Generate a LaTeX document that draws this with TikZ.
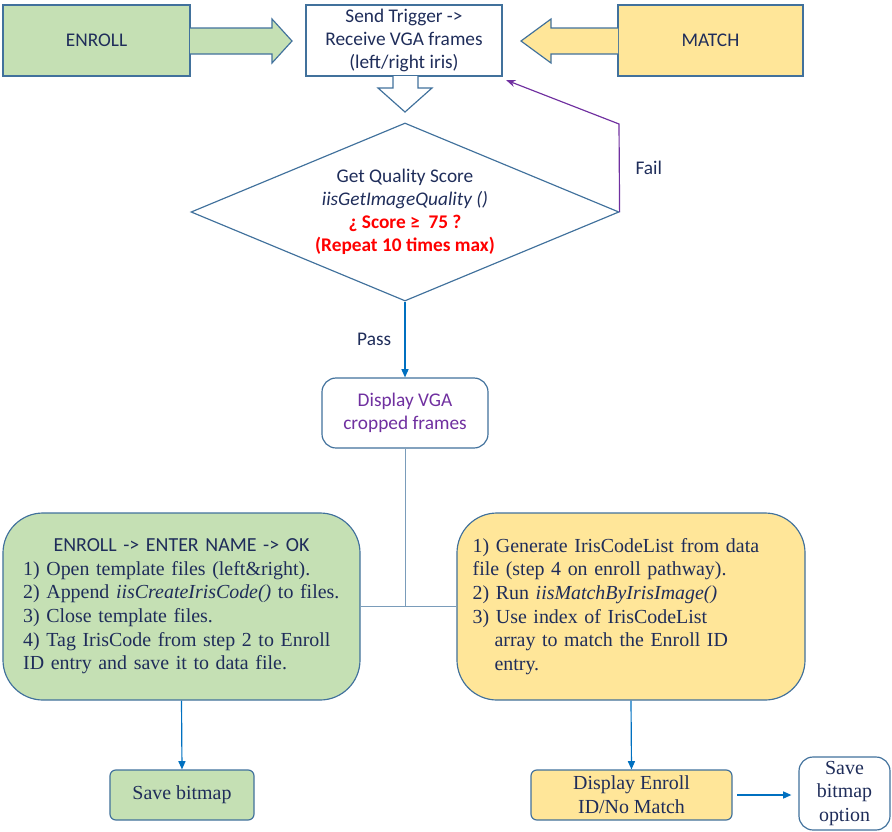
\documentclass[tikz,border=0pt]{standalone}
\usepackage{fontspec}
\setmainfont{Liberation Serif}
\setsansfont{Carlito}
\usetikzlibrary{shapes.geometric,arrows.meta,positioning}
\definecolor{boxline}{RGB}{65,113,156}
\definecolor{greenfill}{RGB}{197,224,180}
\definecolor{yellowfill}{RGB}{255,230,153}
\definecolor{navytext}{RGB}{31,45,90}
\definecolor{failline}{RGB}{112,48,160}
\definecolor{passline}{RGB}{0,112,192}
\tikzset{
  sanstext/.style={font=\sffamily\fontsize{16.5}{19.8}\selectfont, text=navytext},
  serftext/.style={font=\fontsize{17}{20.2}\selectfont, text=navytext},
  plainbox/.style={draw=boxline, line width=1pt, fill=white, inner sep=2pt},
  roundbox/.style={plainbox, rounded corners=12pt},
  bigbox/.style={draw=boxline, line width=1pt, rounded corners=1.2cm},
  flow/.style={draw=passline, line width=1pt, -{Triangle[length=7pt,width=6pt]}},
}
\begin{document}
\begin{tikzpicture}[x=0.03cm,y=-0.03cm]
\useasboundingbox (0,0) rectangle (892,831);
% top row
\node[plainbox, fill=greenfill, sanstext, minimum width=5.61cm, minimum height=2.13cm] (enroll) at (96.5,40.5) {ENROLL};
\node[plainbox, sanstext, align=center, minimum width=5.88cm, minimum height=2.13cm] (trigger) at (404,40.5) {Send Trigger ->\\Receive VGA frames\\(left/right iris)};
\node[plainbox, fill=yellowfill, sanstext, minimum width=5.55cm, minimum height=2.13cm] (match) at (710.5,40.5) {MATCH};
\draw[draw=boxline, line width=1pt, fill=greenfill] (190,28) -- (272,28) -- (272,19) -- (292,41) -- (272,63) -- (272,54) -- (190,54);
\draw[draw=boxline, line width=1pt, fill=yellowfill] (618,28) -- (551,28) -- (551,19) -- (521,41) -- (551,63) -- (551,54) -- (618,54);
\draw[draw=boxline, line width=1pt, fill=white] (393,76) -- (393,88) -- (378,88) -- (405,112) -- (432,88) -- (418,88) -- (418,76);
% quality check
\node[diamond, aspect=2.4, draw=boxline, line width=1pt, inner sep=0pt, sanstext, align=center, minimum width=12.84cm, minimum height=5.34cm] (quality) at (405,212)
  {Get Quality Score\\\textit{iisGetImageQuality ()}\\\textcolor{red}{\bfseries ¿ Score ≥\ \ 75 ?}\\\textcolor{red}{\bfseries (Repeat 10 times max)}};
\coordinate (failturn) at (619,124);
\draw[draw=failline, line width=1pt, -{Stealth[length=8pt,width=6pt]}] (quality.east) -- (failturn) node[midway, right=10pt, sanstext]{Fail} -- ([xshift=3pt,yshift=-3pt]trigger.south east);
\node[roundbox, sanstext, text=failline, align=center, minimum width=4.98cm, minimum height=2.1cm] (vga) at (405,413) {Display VGA\\cropped frames};
\draw[flow] (quality.south) -- (vga.north) node[midway, left=8pt, sanstext]{Pass};
% enroll / match paths
\node[bigbox, fill=greenfill, serftext, text width=9.5cm, align=left, minimum width=10.71cm, minimum height=5.61cm] (enrollsteps) at (181.5,606.5)
  {\makebox[\linewidth]{\sffamily ENROLL -> ENTER NAME -> OK}\\
   1) Open template files (left\&right).\\
   2) Append \textit{iisCreateIrisCode()} to files.\\
   3) Close template files.\\
   4) Tag IrisCode from step 2 to Enroll\\
   ID entry and save it to data file.};
\node[bigbox, fill=yellowfill, serftext, text width=9.5cm, align=left, minimum width=10.44cm, minimum height=5.61cm] (matchsteps) at (631,606.5)
  {1) Generate IrisCodeList from data\\
   file (step 4 on enroll pathway).\\
   2) Run \textit{iisMatchByIrisImage()}\\
   3) Use index of IrisCodeList\\
   \hspace*{1.1em}array to match the Enroll ID\\
   \hspace*{1.1em}entry.};
\coordinate (junction) at (405,606.5);
\draw[draw=boxline!70, line width=0.6pt] (vga.south) -- (junction);
\draw[draw=boxline!70, line width=0.6pt] (enrollsteps.east) -- (matchsteps.west);
% results
\node[plainbox, rounded corners=5pt, fill=greenfill, serftext, minimum width=4.32cm, minimum height=1.5cm] (savebmp) at (182,795) {Save bitmap};
\node[plainbox, rounded corners=5pt, fill=yellowfill, serftext, align=center, minimum width=6.03cm, minimum height=1.5cm] (showid) at (631.5,795) {Display Enroll\\ID/No Match};
\node[roundbox, serftext, align=center, minimum width=2.73cm, minimum height=2.19cm] (option) at (844.5,793.5) {Save\\bitmap\\option};
\draw[flow] (enrollsteps.south) -- (savebmp.north);
\draw[flow] (matchsteps.south) -- (showid.north);
\draw[flow, shorten <=4pt, shorten >=6pt] (showid.east) -- (option.west |- showid.east);
\end{tikzpicture}
\end{document}
